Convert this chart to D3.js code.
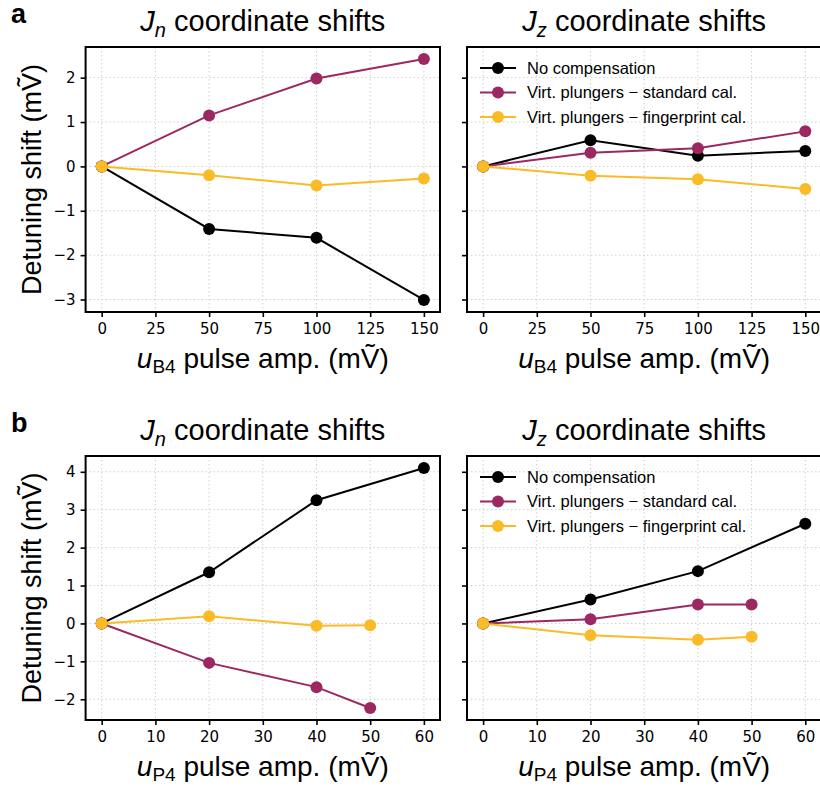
<!DOCTYPE html>
<html>
<head>
<meta charset="utf-8" />
<script src="https://cdn.jsdelivr.net/npm/d3@7"></script>
<style>
  body { margin: 0; background: #fff; }
  text { fill: #000; }
  .tick text { font-family: "DejaVu Sans", sans-serif; font-size: 15px; }
  .grid line { stroke: #cfcfcf; stroke-width: 1; stroke-dasharray: 1.5,2.5; }
</style>
</head>
<body>
<div id="chart"></div>
<script>
// x values
var ampB4 = [0, 50, 100, 150];
var ampP4None = [0, 20, 40, 60];
var ampP4Virt = [0, 20, 40, 50];

// row a (B4 pulse)
var aJnNone = [0, -1.41, -1.61, -3.01];
var aJnStd  = [0, 1.15, 1.98, 2.42];
var aJnFp   = [0, -0.20, -0.43, -0.27];
var aJzNone = [0, 0.59, 0.24, 0.35];
var aJzStd  = [0, 0.31, 0.41, 0.79];
var aJzFp   = [0, -0.21, -0.29, -0.51];

// row b (P4 pulse)
var bJnNone = [0, 1.35, 3.25, 4.10];
var bJnStd  = [0, -1.04, -1.68, -2.23];
var bJnFp   = [0, 0.19, -0.06, -0.05];
var bJzNone = [0, 0.63, 1.38, 2.63];
var bJzStd  = [0, 0.11, 0.50, 0.50];
var bJzFp   = [0, -0.31, -0.43, -0.35];

var aXTicks = [0, 25, 50, 75, 100, 125, 150];
var bXTicks = [0, 10, 20, 30, 40, 50, 60];
var aYTicks = [-3, -2, -1, 0, 1, 2];
var bYTicks = [-2, -1, 0, 1, 2, 3, 4];

var seriesNames = ["No compensation", "Virt. plungers \u2212 standard cal.", "Virt. plungers \u2212 fingerprint cal."];
var colors = ["#000000", "#9c2862", "#fbbb27"];

var width = 820, height = 786;
var svg = d3.select("#chart").append("svg")
  .attr("width", width)
  .attr("height", height);

var colX = [85.6, 467];
var panelW = 354.4;
var fmt = d3.format("d");
var rows = [
  { label: "a", top: 47, bottom: 312, sub: "B4", xticks: aXTicks, yticks: aYTicks,
    panels: [
      { title: "n", xs: [ampB4, ampB4, ampB4], ys: [aJnNone, aJnStd, aJnFp] },
      { title: "z", xs: [ampB4, ampB4, ampB4], ys: [aJzNone, aJzStd, aJzFp] }
    ] },
  { label: "b", top: 456, bottom: 720, sub: "P4", xticks: bXTicks, yticks: bYTicks,
    panels: [
      { title: "n", xs: [ampP4None, ampP4Virt, ampP4Virt], ys: [bJnNone, bJnStd, bJnFp] },
      { title: "z", xs: [ampP4None, ampP4Virt, ampP4Virt], ys: [bJzNone, bJzStd, bJzFp] }
    ] }
];

function padded(ext) {
  var m = (ext[1] - ext[0]) * 0.05;
  return [ext[0] - m, ext[1] + m];
}

rows.forEach(function(row) {
  var allY = [], allX = [];
  row.panels.forEach(function(p) {
    p.ys.forEach(function(v) { allY = allY.concat(v); });
    p.xs.forEach(function(v) { allX = allX.concat(v); });
  });
  var y = d3.scaleLinear().domain(padded(d3.extent(allY))).range([row.bottom, row.top]);

  // panel letter
  svg.append("text")
    .attr("x", 11).attr("y", row.top - 24)
    .style("font-family", "Liberation Sans, Arial, sans-serif")
    .style("font-size", "27px").style("font-weight", "bold")
    .text(row.label);

  // y label
  svg.append("text")
    .attr("transform", "translate(41," + ((row.top + row.bottom) / 2) + ") rotate(-90)")
    .attr("text-anchor", "middle")
    .style("font-family", "Liberation Sans, Arial, sans-serif")
    .style("font-size", "27px")
    .text("Detuning shift (mV\u0303)");

  row.panels.forEach(function(p, ci) {
    var x0 = colX[ci];
    var x = d3.scaleLinear().domain(padded(d3.extent(allX))).range([x0, x0 + panelW]);
    var g = svg.append("g");

    // grid
    var grid = g.append("g").attr("class", "grid");
    grid.selectAll(".gx").data(row.xticks).enter().append("line")
      .attr("x1", function(d) { return x(d); }).attr("x2", function(d) { return x(d); })
      .attr("y1", row.top).attr("y2", row.bottom);
    grid.selectAll(".gy").data(row.yticks).enter().append("line")
      .attr("y1", function(d) { return y(d); }).attr("y2", function(d) { return y(d); })
      .attr("x1", x0).attr("x2", x0 + panelW);

    // axes
    var xa = g.append("g").attr("transform", "translate(0," + row.bottom + ")")
      .call(d3.axisBottom(x).tickValues(row.xticks).tickFormat(fmt).tickSize(5).tickPadding(6));
    var ya = g.append("g").attr("transform", "translate(" + x0 + ",0)")
      .call(d3.axisLeft(y).tickValues(row.yticks).tickFormat(fmt).tickSize(5).tickPadding(5));
    if (ci === 1) ya.selectAll("text").remove();
    [xa, ya].forEach(function(a) {
      a.select(".domain").remove();
      a.selectAll("line").attr("stroke", "#000").attr("stroke-width", 1.6);
    });

    // frame
    g.append("rect")
      .attr("x", x0).attr("y", row.top)
      .attr("width", panelW).attr("height", row.bottom - row.top)
      .attr("fill", "none").attr("stroke", "#000").attr("stroke-width", 2);

    // series
    var line = d3.line().x(function(d) { return x(d[0]); }).y(function(d) { return y(d[1]); });
    p.ys.forEach(function(vals, si) {
      var pts = vals.map(function(v, i) { return [p.xs[si][i], v]; });
      g.append("path").datum(pts)
        .attr("d", line).attr("fill", "none")
        .attr("stroke", colors[si]).attr("stroke-width", 2);
      g.selectAll(".pt" + si).data(pts).enter().append("circle")
        .attr("cx", function(d) { return x(d[0]); })
        .attr("cy", function(d) { return y(d[1]); })
        .attr("r", 6).attr("fill", colors[si]);
    });

    // title
    var t = svg.append("text")
      .attr("x", x0 + panelW / 2).attr("y", row.top - 16)
      .attr("text-anchor", "middle")
      .style("font-family", "Liberation Sans, Arial, sans-serif")
      .style("font-size", "29px");
    t.append("tspan").style("font-style", "italic").text("J");
    t.append("tspan").style("font-style", "italic").style("font-size", "20px").attr("dy", 6).text(p.title);
    t.append("tspan").attr("dy", -6).text(" coordinate shifts");

    // x label
    var xl = svg.append("text")
      .attr("x", x0 + panelW / 2).attr("y", row.bottom + 56)
      .attr("text-anchor", "middle")
      .style("font-family", "Liberation Sans, Arial, sans-serif")
      .style("font-size", "28px");
    xl.append("tspan").style("font-style", "italic").text("u");
    xl.append("tspan").style("font-size", "19px").attr("dy", 5).text(row.sub);
    xl.append("tspan").attr("dy", -5).text(" pulse amp. (mV\u0303)");

    // legend on right panels
    if (ci === 1) {
      var lg = g.append("g").attr("transform", "translate(" + (x0 + 13) + "," + (row.top + 21) + ")");
      seriesNames.forEach(function(name, si) {
        var r = lg.append("g").attr("transform", "translate(0," + (si * 24.5) + ")");
        r.append("line").attr("x1", 0).attr("x2", 36).attr("stroke", colors[si]).attr("stroke-width", 2);
        r.append("circle").attr("cx", 18).attr("r", 6).attr("fill", colors[si]);
        r.append("text").attr("x", 47).attr("dy", "0.35em")
          .style("font-family", "Liberation Sans, Arial, sans-serif")
          .style("font-size", "16.5px")
          .text(name);
      });
    }
  });
});
</script>
</body>
</html>
